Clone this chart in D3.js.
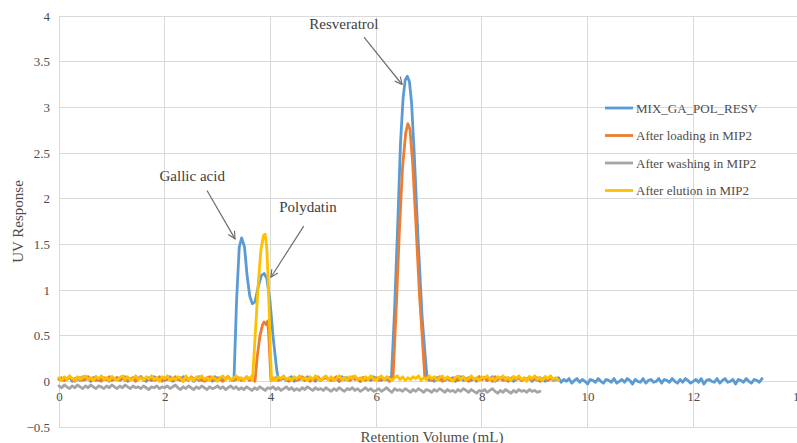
<!DOCTYPE html>
<html>
<head>
<meta charset="utf-8">
<script src="https://cdn.jsdelivr.net/npm/d3@7"></script>
<style>
  body { margin: 0; background: #fff; }
  svg { display: block; font-family: "Liberation Serif", "Times New Roman", serif; }
</style>
</head>
<body>
<svg></svg>
<script>
// Series names and colours
let seriesNames = ['MIX_GA_POL_RESV', 'After loading in MIP2', 'After washing in MIP2', 'After elution in MIP2'];
let seriesColors = ['#5b9bd5', '#ed7d31', '#a5a5a5', '#ffc000'];

// Axis ticks
let xTicks = [0, 2, 4, 6, 8, 10, 12, 14];
let yTicks = [-0.5, 0, 0.5, 1, 1.5, 2, 2.5, 3, 3.5, 4];

// Baseline readings (hundredths of UV units, every 0.05 mL)
let blueBase1 = [3,1,4,2,5,0,3,4,1,5, 2,4,0,3,5,1,4,2,3,0, 5,2,4,1,3,5,0,2,4,1, 3,5,2,0,4,1,5,3,2,4,
                 1,3,5,0,2,4,1,5,3,2, 4,0,3,5,1,2,4,3,0,5, 2,4,1,3,5,2,1];
let blueBase2 = [2,4,1,3,5,0,3,2,4,1, 5,2,3,0,4,1,3,5,2,4, 1,3,0,5,2,4,1,3,5,2, 0,4,2,3,1,5,2,4,1,3, 2,4];
let blueBase3 = [1,3,0,4,2,5,1,3,2,4, 0,3,5,1,2,4,1,3,0,5, 2,4,1,3,5,0,2,4,3,1, 4,2,0,3,5,1,3,2,4,0,
                 3,1,4,2,0,3,5,1,2,4,
                 -1,2,0,3,-2,1,3,-1,2,0, -3,2,1,-1,3,0,-2,2,1,-1, 3,-2,0,2,-1,3,1,-3,2,0,
                 -1,3,-2,1,2,-1,0,3,-2,2, 1,-1,3,0,-2,2,-1,3,1,-2, 0,2,-1,3,-3,1,2,0,-1,3,
                 -2,1,3,-1,0,2,-3,2,1,-1, 3,0,-2,2,1,-1,3];
let orangeBase1 = [2,4,1,3,5,2,0,3,4,1, 3,5,2,4,1,3,0,4,2,5, 1,3,4,2,5,1,3,2,4,0, 3,5,1,4,2,3,1,2,5,0,
                   4,2,3,1,5,2,4,0,3,1, 5,2,4,1,3,0,2,5,3,1, 4,2,0,3,5,1,3,2,4,1, 2,5,1,3,0];
let orangeBase2 = [2,4,1,3,5,2,0,3,4,1, 3,5,2,4,0,3,2,5,1,3, 4,2,1,3,5,0,2,4,3,1, 5,2,3,0,4,1,3,5,2,4,
                   1,3,2,4,0,2];
let orangeBase3 = [3,1,4,2,5,0,3,4,1,2, 4,1,3,5,2,0,4,3,1,5, 2,4,1,3,0,5,2,3,1,4, 0,3,5,2,4,1,3,2,5,1,
                   3,4,0,2,5,1,3];
let grayBase = [-5,-7,-4,-6,-8,-5,-7,-4,-6,-8, -5,-7,-4,-6,-8,-5,-6,-8,-5,-7, -4,-6,-8,-5,-7,-4,-6,-8,-5,-7,
                -6,-8,-5,-7,-9,-6,-7,-5,-8,-6, -7,-5,-8,-6,-4,-7,-9,-6,-8,-5, -7,-9,-6,-8,-5,-7,-9,-6,-8,-7,
                -5,-8,-6,-9,-7,-5,-8,-6,-9,-7, -9,-6,-8,-10,-7,-9,-6,-8,-10,-7, -8,-6,-9,-7,-10,-8,-6,-9,-7,-10,
                -8,-10,-7,-9,-6,-8,-10,-7,-9,-8, -10,-7,-9,-11,-8,-10,-7,-9,-11,-8, -9,-7,-10,-8,-11,-9,-7,-10,-8,-11,
                -10,-8,-11,-9,-7,-10,-12,-8,-10,-9, -11,-8,-10,-12,-9,-11,-8,-10,-12,-9, -10,-12,-9,-11,-8,-10,-12,-9,-11,-10,
                -12,-9,-11,-8,-10,-12,-9,-11,-13,-10, -11,-9,-12,-10,-8,-11,-13,-10,-12,-9, -11,-13,-10,-12,-9,-11,-10,-12,-9,-11,
                -10,-12,-11];
let yellowBase1 = [4,1,5,2,6,3,1,5,2,4, 6,2,4,1,5,3,6,2,4,1, 5,3,1,4,6,2,5,1,3,6, 2,4,1,5,3,6,2,4,0,5,
                   3,6,1,4,2,5,3,0,6,2, 4,1,5,3,6,2,4,1,5,3, 0,4,6,2,5,1,3,6,2,4, 1,5,3,6];
let yellowBase2 = [4,1,5,3,6,2,4,1,5,3, 6,2,4,1,5,2,6,3,1,4, 6,2,5,1,3,6,2,4,1,5, 3,6,2,4,1,5,2,6,3,1,
                   4,6,2,5,3,1,4,6,2,5, 1,4,2,5,3,6,1,4,2,6, 3,5,1,4,6,2,5,3,0,4, 6,2,5,1,3,6,2,4,1,5,
                   3,6,2,4,1,5,3,6,2,4, 1,5,3,6,2,4,0,5,3,6, 2,4,1,5,3,6,2,4,1];

// Peak readings [volume mL, UV response]
let bluePeakGP = [[3.31,0.01],[3.36,0.89],[3.41,1.47],[3.456,1.57],[3.51,1.47],[3.56,1.15],[3.61,0.93],
                  [3.66,0.85],[3.71,0.87],[3.77,1.04],[3.83,1.16],[3.88,1.18],[3.93,1.13],[3.99,0.89],
                  [4.05,0.49],[4.12,0.12],[4.15,0.03]];
let bluePeakRes = [[6.29,0.05],[6.35,0.80],[6.41,1.75],[6.46,2.60],[6.51,3.10],[6.55,3.30],[6.59,3.34],
                   [6.63,3.28],[6.67,3.05],[6.72,2.50],[6.79,1.60],[6.87,0.70],[6.96,0.05]];
let orangePeakPol = [[3.71,0.01],[3.75,0.27],[3.80,0.49],[3.85,0.62],[3.88,0.65],[3.92,0.62],[3.95,0.66],
                     [3.97,0.49],[4.01,0.01]];
let orangePeakRes = [[6.32,0.05],[6.38,0.80],[6.44,1.65],[6.50,2.35],[6.56,2.72],[6.60,2.82],[6.64,2.76],
                     [6.69,2.40],[6.75,1.75],[6.82,0.95],[6.92,0.05]];
let yellowPeakPol = [[3.66,0.01],[3.71,0.49],[3.77,1.07],[3.82,1.44],[3.87,1.60],[3.90,1.61],[3.93,1.47],
                     [3.96,1.07],[3.99,0.49],[4.02,0.01]];

// Annotations: label, label position, arrow start, arrow end (data units)
let annotations = [
    { text: 'Gallic acid', at: [2.52, 2.25], from: [2.80, 2.09], to: [3.33, 1.56] },
    { text: 'Polydatin', at: [4.71, 1.91], from: [4.63, 1.70], to: [4.01, 1.14] },
    { text: 'Resveratrol', at: [5.39, 3.91], from: [5.77, 3.77], to: [6.49, 3.25] }
];

// SVG dimensions
let width = 797, height = 443;
let plotLeft = 59, plotRight = 799, plotTop = 16, plotBottom = 427;

let svg = d3.select('svg').attr('width', width).attr('height', height);

let xScale = d3.scaleLinear().domain([0, 14]).range([plotLeft, plotRight]);
let yScale = d3.scaleLinear().domain([-0.5, 4]).range([plotBottom, plotTop]);

// Turn a run of baseline readings into points
function seg(x0, vals) {
    return vals.map((v, i) => [+(x0 + i * 0.05).toFixed(2), v / 100]);
}

let seriesData = [
    seg(0, blueBase1).concat(bluePeakGP, seg(4.2, blueBase2), bluePeakRes, seg(7.0, blueBase3)),
    seg(0, orangeBase1).concat(orangePeakPol, seg(4.05, orangeBase2), orangePeakRes, seg(7.0, orangeBase3)),
    seg(0, grayBase),
    seg(0, yellowBase1).concat(yellowPeakPol, seg(4.05, yellowBase2))
];

// Gridlines
svg.append('g')
    .selectAll('line')
    .data(yTicks)
    .enter()
    .append('line')
    .attr('x1', plotLeft).attr('x2', plotRight)
    .attr('y1', d => yScale(d)).attr('y2', d => yScale(d))
    .attr('stroke', '#d9d9d9').attr('stroke-width', 1)
    .attr('shape-rendering', 'crispEdges');

svg.append('g')
    .selectAll('line')
    .data(xTicks)
    .enter()
    .append('line')
    .attr('x1', d => xScale(d)).attr('x2', d => xScale(d))
    .attr('y1', plotTop).attr('y2', plotBottom)
    .attr('stroke', '#d9d9d9').attr('stroke-width', 1)
    .attr('shape-rendering', 'crispEdges');

// Axes (labels only)
let yAxis = d3.axisLeft(yScale).tickValues(yTicks).tickSize(0).tickPadding(9).tickFormat(d3.format('~g'));
let yG = svg.append('g').attr('transform', `translate(${plotLeft},0)`).call(yAxis);

let xAxis = d3.axisBottom(xScale).tickValues(xTicks).tickSize(0).tickPadding(10).tickFormat(d3.format('d'));
let xG = svg.append('g').attr('transform', `translate(0,${yScale(0)})`).call(xAxis);

[yG, xG].forEach(g => {
    g.select('.domain').remove();
    g.selectAll('text')
        .attr('fill', '#4d4d4d')
        .style('font-size', '13px')
        .style('font-family', '"Liberation Serif", "Times New Roman", serif');
});

// Series lines
let line = d3.line().x(d => xScale(d[0])).y(d => yScale(d[1]));

svg.append('g')
    .selectAll('path')
    .data(seriesData)
    .enter()
    .append('path')
    .attr('d', d => line(d))
    .attr('fill', 'none')
    .attr('stroke', (d, i) => seriesColors[i])
    .attr('stroke-width', 2.8)
    .attr('stroke-linejoin', 'round')
    .attr('stroke-linecap', 'round');

// Arrow marker
svg.append('defs')
    .append('marker')
    .attr('id', 'arrow')
    .attr('viewBox', '0 0 10 10')
    .attr('refX', 9).attr('refY', 5)
    .attr('markerWidth', 9).attr('markerHeight', 9)
    .attr('markerUnits', 'userSpaceOnUse')
    .attr('orient', 'auto')
    .append('path')
    .attr('d', 'M1,1 L9,5 L1,9')
    .attr('fill', 'none')
    .attr('stroke', '#6e6e6e')
    .attr('stroke-width', 1.3);

// Annotations
let ann = svg.append('g');
ann.selectAll('line')
    .data(annotations)
    .enter()
    .append('line')
    .attr('x1', d => xScale(d.from[0])).attr('y1', d => yScale(d.from[1]))
    .attr('x2', d => xScale(d.to[0])).attr('y2', d => yScale(d.to[1]))
    .attr('stroke', '#6e6e6e').attr('stroke-width', 1.2)
    .attr('marker-end', 'url(#arrow)');

ann.selectAll('text')
    .data(annotations)
    .enter()
    .append('text')
    .attr('x', d => xScale(d.at[0]))
    .attr('y', d => yScale(d.at[1]))
    .attr('text-anchor', 'middle')
    .attr('dominant-baseline', 'central')
    .attr('fill', '#404040')
    .style('font-size', '15px')
    .text(d => d.text);

// Legend
let legend = svg.append('g')
    .selectAll('g')
    .data(seriesNames)
    .enter()
    .append('g')
    .attr('transform', (d, i) => `translate(605,${108 + i * 27.5})`);

legend.append('line')
    .attr('x1', 0).attr('x2', 28)
    .attr('stroke', (d, i) => seriesColors[i])
    .attr('stroke-width', 2.8);

legend.append('text')
    .attr('x', 31)
    .attr('dominant-baseline', 'central')
    .attr('fill', '#4d4d4d')
    .style('font-size', '13px')
    .text(d => d);

// Axis titles
svg.append('text')
    .attr('transform', `translate(18,${(plotTop + plotBottom) / 2}) rotate(-90)`)
    .attr('text-anchor', 'middle')
    .attr('dominant-baseline', 'central')
    .attr('fill', '#4d4d4d')
    .style('font-size', '15px')
    .text('UV Response');

svg.append('text')
    .attr('x', 432)
    .attr('y', 437)
    .attr('text-anchor', 'middle')
    .attr('dominant-baseline', 'central')
    .attr('fill', '#4d4d4d')
    .style('font-size', '15px')
    .text('Retention Volume (mL)');
</script>
</body>
</html>
